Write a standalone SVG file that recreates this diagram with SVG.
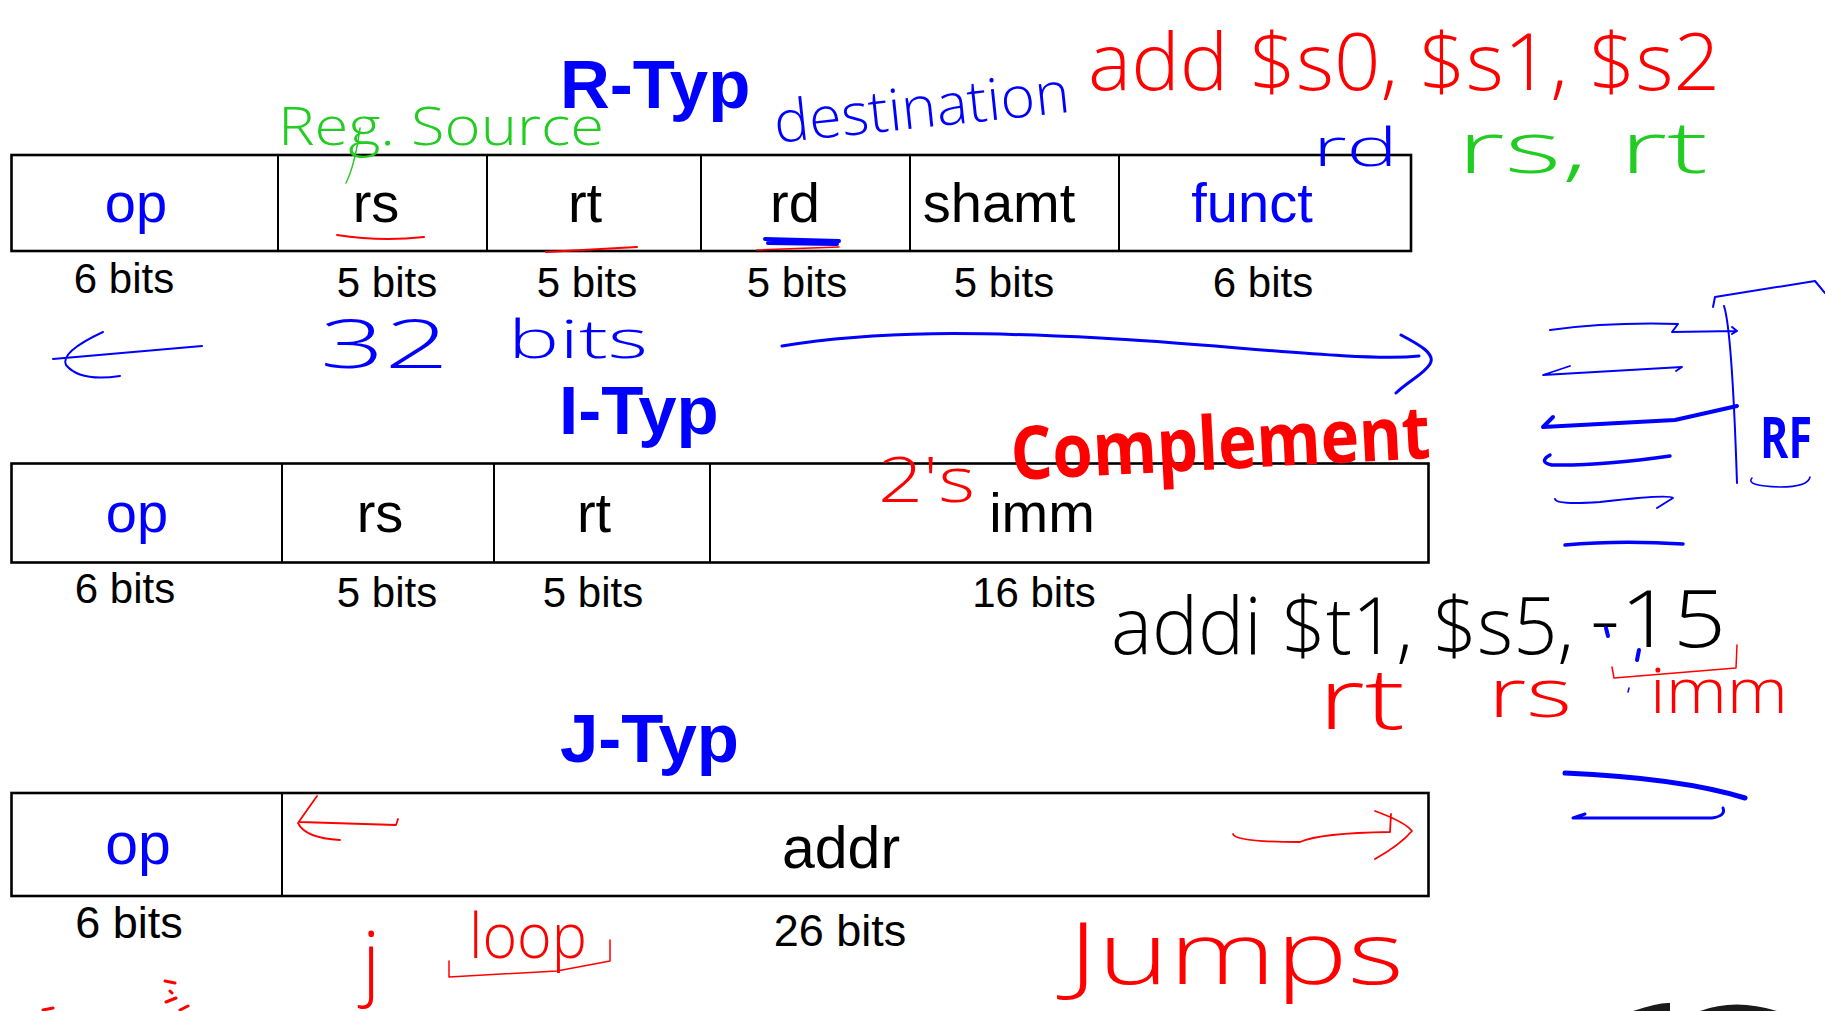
<svg xmlns="http://www.w3.org/2000/svg" width="1825" height="1011" viewBox="0 0 1825 1011">
<style>
.box{fill:#fff;stroke:#000;stroke-width:2.6}
.div{stroke:#000;stroke-width:2}
.t{font-family:"Liberation Sans",Arial,sans-serif;font-size:56px;fill:#000;text-anchor:middle}
.b{fill:#0000ff}
.bits{font-family:"Liberation Sans",Arial,sans-serif;font-size:42px;fill:#000;text-anchor:middle}
.title{font-family:"Liberation Sans",Arial,sans-serif;font-weight:bold;font-size:69px;fill:#0000ff}
.hw{font-family:"Open Sans","DejaVu Sans",sans-serif;font-weight:300}
.ink{fill:none;stroke-linecap:round;stroke-linejoin:round}
</style>
<rect width="1825" height="1011" fill="#fff"/>

<g id="r-type">
  <text class="title" x="560" y="108">R-Typ</text>
  <rect class="box" x="11.5" y="155" width="1399.5" height="96"/>
  <line class="div" x1="278" y1="155" x2="278" y2="251"/>
  <line class="div" x1="487" y1="155" x2="487" y2="251"/>
  <line class="div" x1="701" y1="155" x2="701" y2="251"/>
  <line class="div" x1="910" y1="155" x2="910" y2="251"/>
  <line class="div" x1="1119" y1="155" x2="1119" y2="251"/>
  <g id="r-op"><text class="t b" x="136" y="222">op</text><text class="bits" x="124" y="293">6 bits</text></g>
  <g id="r-rs"><text class="t" x="376" y="222">rs</text><text class="bits" x="387" y="297">5 bits</text></g>
  <g id="r-rt"><text class="t" x="585" y="222">rt</text><text class="bits" x="587" y="297">5 bits</text></g>
  <g id="r-rd"><text class="t" x="795" y="222">rd</text><text class="bits" x="797" y="297">5 bits</text></g>
  <g id="r-shamt"><text class="t" x="999" y="222">shamt</text><text class="bits" x="1004" y="297">5 bits</text></g>
  <g id="r-funct"><text class="t b" x="1252" y="222">funct</text><text class="bits" x="1263" y="297">6 bits</text></g>
</g>

<g id="i-type">
  <text class="title" x="559" y="434">I-Typ</text>
  <rect class="box" x="11.5" y="463.5" width="1417" height="99"/>
  <line class="div" x1="282" y1="463.5" x2="282" y2="562.5"/>
  <line class="div" x1="494" y1="463.5" x2="494" y2="562.5"/>
  <line class="div" x1="710" y1="463.5" x2="710" y2="562.5"/>
  <g id="i-op"><text class="t b" x="137" y="532">op</text><text class="bits" x="125" y="603">6 bits</text></g>
  <g id="i-rs"><text class="t" x="380" y="532">rs</text><text class="bits" x="387" y="607">5 bits</text></g>
  <g id="i-rt"><text class="t" x="594" y="532">rt</text><text class="bits" x="593" y="607">5 bits</text></g>
  <g id="i-imm"><text class="t" x="1042" y="532">imm</text><text class="bits" x="1034" y="607">16 bits</text></g>
</g>

<g id="j-type">
  <text class="title" x="560" y="762">J-Typ</text>
  <rect class="box" x="11.5" y="793" width="1417" height="103"/>
  <line class="div" x1="282" y1="793" x2="282" y2="896"/>
  <g id="j-op"><text class="t b" x="138" y="864" style="font-size:59px">op</text><text class="bits" x="129" y="938" style="font-size:45px">6 bits</text></g>
  <g id="j-addr"><text class="t" x="841" y="868" style="font-size:59px">addr</text><text class="bits" x="840" y="946" style="font-size:45px">26 bits</text></g>
</g>

<g id="connectors">
  <path class="ink" stroke="#0000ff" stroke-width="2" d="M202 346 L53 359 M103 332 Q60 352 66 365 Q80 382 120 376"/>
  <path class="ink" stroke="#0000ff" stroke-width="3" d="M782 346 C880 330 980 332 1100 338 S1360 362 1419 356 M1401 335 C1420 345 1436 354 1430 364 S1410 380 1396 393"/>
  <path class="ink" stroke="#ff0000" stroke-width="1.8" d="M317 796 L298 823 Q305 838 340 840 M300 822 L396 825 L398 819"/>
  <path class="ink" stroke="#ff0000" stroke-width="1.8" d="M1233 834 Q1235 842 1300 842 Q1320 833 1390 832 L1391 814 M1375 811 Q1405 822 1412 831 Q1400 845 1375 859"/>
</g>

<g id="annotations">
  <path class="ink" stroke="#ff0000" stroke-width="2" d="M337 235 Q381 242 424 237"/>
  <path class="ink" stroke="#ff0000" stroke-width="2" d="M546 252 L637 247"/>
  <path class="ink" stroke="#0000ff" stroke-width="4" d="M765 239 L839 241 M768 243 L837 244"/>
  <path class="ink" stroke="#ff0000" stroke-width="1.5" d="M757 250 L839 247"/>

  <text class="hw" x="278" y="145" fill="#22cc22" font-size="54" textLength="326" lengthAdjust="spacingAndGlyphs">Reg. Source</text>
  <path class="ink" stroke="#22cc22" stroke-width="1.5" d="M360 128 Q355 165 346 183"/>
  <text class="hw" x="776" y="143" fill="#0000ff" font-size="58" textLength="297" lengthAdjust="spacingAndGlyphs" transform="rotate(-6 776 143)">destination</text>
  <text class="hw" x="1088" y="90" fill="#ff0000" font-size="80" textLength="632" lengthAdjust="spacingAndGlyphs">add $s0, $s1, $s2</text>
  <text class="hw" x="1313" y="166" fill="#0000ff" font-size="54" textLength="85" lengthAdjust="spacingAndGlyphs">rd</text>
  <text class="hw" x="1457" y="173" fill="#22cc22" font-size="72" textLength="251" lengthAdjust="spacingAndGlyphs">rs, rt</text>

  <text class="hw" x="320" y="368" fill="#0000ff" font-size="66" textLength="129" lengthAdjust="spacingAndGlyphs">32</text>
  <text class="hw" x="508" y="358" fill="#0000ff" font-size="54" textLength="140" lengthAdjust="spacingAndGlyphs">bits</text>

  <text class="hw" x="878" y="502" fill="#ff0000" font-size="62" textLength="97" lengthAdjust="spacingAndGlyphs">2's</text>
  <text x="1012" y="480" fill="#ff0000" font-family="Open Sans, DejaVu Sans, sans-serif" font-weight="bold" font-size="74" textLength="420" lengthAdjust="spacingAndGlyphs" transform="rotate(-3 1012 480)">Complement</text>

  <text class="hw" x="1111" y="654" fill="#000" font-size="80" textLength="463" lengthAdjust="spacingAndGlyphs">addi $t1, $s5,</text>
  <text class="hw" x="1590" y="647" fill="#000" font-size="80" textLength="136" lengthAdjust="spacingAndGlyphs">-15</text>
  <path class="ink" stroke="#0000ff" stroke-width="4" d="M1606 628 L1608 636 M1639 650 L1637 660"/>
  <path class="ink" stroke="#0000ff" stroke-width="1.5" d="M1629 688 L1628 692"/>
  <text class="hw" x="1318" y="729" fill="#ff0000" font-size="84" textLength="87" lengthAdjust="spacingAndGlyphs">rt</text>
  <text class="hw" x="1488" y="717" fill="#ff0000" font-size="68" textLength="84" lengthAdjust="spacingAndGlyphs">rs</text>
  <path class="ink" stroke="#ff0000" stroke-width="1.5" d="M1612 667 L1614 678 L1736 668 L1737 645"/>
  <text class="hw" x="1650" y="713" fill="#ff0000" font-size="62" textLength="138" lengthAdjust="spacingAndGlyphs">imm</text>

  <path class="ink" stroke="#0000ff" stroke-width="2" d="M1550 330 Q1610 322 1678 324 L1672 332 L1737 331 M1732 327 L1737 331 L1732 334"/>
  <path class="ink" stroke="#0000ff" stroke-width="1.8" d="M1570 366 L1543 375 L1682 367 L1676 371"/>
  <path class="ink" stroke="#0000ff" stroke-width="4" d="M1553 417 L1543 427 L1675 420 L1737 406"/>
  <path class="ink" stroke="#0000ff" stroke-width="3.5" d="M1550 455 Q1538 462 1552 465 Q1600 466 1670 456"/>
  <path class="ink" stroke="#0000ff" stroke-width="2" d="M1555 499 Q1556 505 1600 502 Q1670 494 1673 498 L1657 508"/>
  <path class="ink" stroke="#0000ff" stroke-width="3.5" d="M1565 545 Q1620 540 1683 544"/>
  <path class="ink" stroke="#0000ff" stroke-width="2" d="M1713 307 L1715 297 L1815 281 L1825 293 M1724 306 Q1732 330 1737 483"/>
  <text x="1760" y="458" fill="#0000ff" font-family="Open Sans, DejaVu Sans, sans-serif" font-weight="bold" font-size="58" textLength="52" lengthAdjust="spacingAndGlyphs">RF</text>
  <path class="ink" stroke="#0000ff" stroke-width="1.5" d="M1752 478 Q1745 486 1780 487 Q1808 487 1810 477"/>

  <path class="ink" stroke="#0000ff" stroke-width="5" d="M1565 773 Q1680 778 1745 798"/>
  <path class="ink" stroke="#0000ff" stroke-width="3" d="M1585 814 L1573 818 L1712 818 Q1726 816 1723 808"/>

  <text class="hw" x="1068" y="984" fill="#ff0000" font-size="86" textLength="336" lengthAdjust="spacingAndGlyphs">Jumps</text>
  <text class="hw" x="362" y="990" fill="#ff0000" font-size="81">j</text>
  <text class="hw" x="469" y="958" fill="#ff0000" font-size="62" textLength="118" lengthAdjust="spacingAndGlyphs">loop</text>
  <path class="ink" stroke="#ff0000" stroke-width="1.5" d="M449 961 L449 977 L557 971 L610 961 L610 940"/>
  <path class="ink" stroke="#ff0000" stroke-width="3" d="M43 1010 L53 1008 M165 981 L175 983 M170 991 L172 993 M166 1002 L176 998 M180 1010 L188 1006"/>
  <path fill="#1a1a1a" d="M1633 1011 Q1660 1002 1670 1003 L1670 1011 Z M1700 1011 Q1735 998 1777 1011 Z"/>
</g>
</svg>
